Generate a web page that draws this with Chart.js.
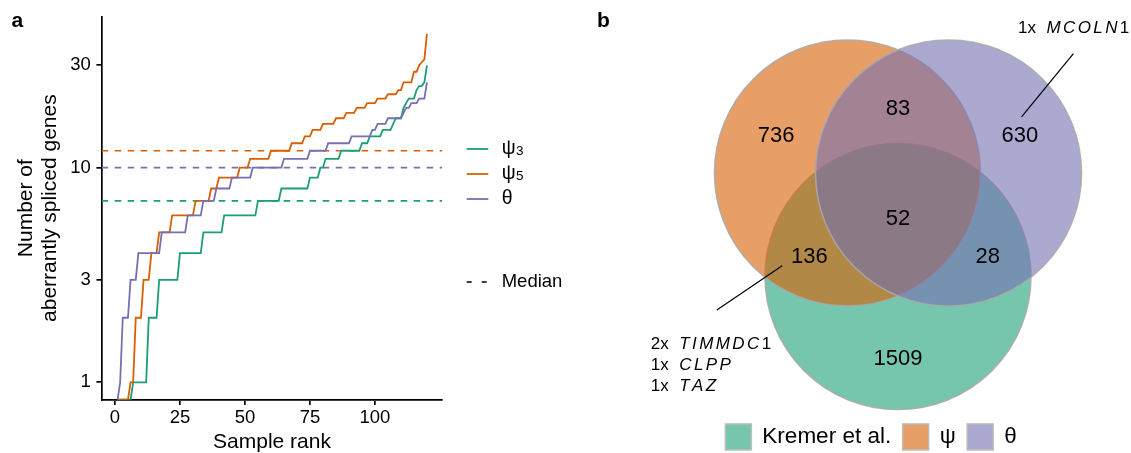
<!DOCTYPE html>
<html>
<head>
<meta charset="utf-8">
<script src="https://cdn.jsdelivr.net/npm/chart.js@4.4.1/dist/chart.umd.min.js"></script>
<style>
    html, body { margin: 0; padding: 0; background: #fff; }
    #wrap { position: relative; width: 1131px; height: 453px; overflow: hidden; }
    #rankChart { position: absolute; left: 0; top: 0; }
    #vennChart { position: absolute; left: 580px; top: 0; }
</style>
</head>
<body>
<div id="wrap">
    <canvas id="rankChart" width="580" height="453"></canvas>
    <canvas id="vennChart" width="551" height="453"></canvas>
</div>
<script>
// ===============================
// DATA  (panel a: genes per sample, sorted by rank 1..120)
// ===============================
const SERIES_SYMBOLS = ["ψ", "ψ", "θ"];
const SERIES_SUBSCRIPTS = ["3", "5", ""];

const PSI3 = [
    0, 0, 0, 0, 0, 0, 1, 1, 1, 1, 1, 1, 2, 2, 2, 2, 3, 3, 3, 3, 3, 3, 3, 3,
    4, 4, 4, 4, 4, 4, 4, 4, 4, 5, 5, 5, 5, 5, 5, 5, 5,
    6, 6, 6, 6, 6, 6, 6, 6, 6, 6, 6, 6, 6, 7, 7, 7, 7, 7, 7, 7, 7, 7,
    8, 8, 8, 8, 8, 8, 8, 8, 8, 8, 8, 9, 9, 9, 9, 10, 10, 11, 11, 11, 11, 11, 11,
    12, 12, 12, 12, 12, 12, 12, 12, 13, 13, 13, 14, 14, 14, 14, 14, 15, 15, 15, 15,
    16, 17, 17, 17, 19, 20, 21, 21, 21, 23, 24, 24, 25, 30
];
const PSI5 = [
    0, 0, 0, 0, 0, 1, 1, 2, 2, 2, 3, 3, 3, 4, 4, 4, 5, 5, 5, 5, 5,
    6, 6, 6, 6, 6, 6, 6, 6, 6, 7, 7, 7, 7, 7, 7, 8, 8, 8,
    9, 9, 9, 9, 9, 9, 9, 9, 10, 10, 10, 10, 11, 11, 11, 11, 11, 11, 11, 11,
    12, 12, 12, 12, 12, 12, 12, 12, 13, 13, 13, 13, 13, 14, 14, 14, 15, 15, 15, 15,
    16, 16, 16, 16, 16, 17, 17, 17, 17, 18, 18, 18, 18, 19, 19, 19, 19,
    20, 20, 20, 20, 21, 21, 21, 21, 22, 22, 22, 22, 23, 23, 25, 25, 25, 25,
    28, 28, 30, 31, 32, 42
];
const THETA = [
    0, 1, 2, 2, 2, 3, 3, 3, 4, 4, 4, 4, 4, 4, 4, 4, 4,
    5, 5, 5, 5, 5, 5, 5, 5, 5, 5, 6, 6, 6, 6, 6, 6, 7, 7, 7, 7, 7,
    8, 8, 8, 8, 8, 8, 9, 9, 9, 9, 9, 9, 9, 9,
    10, 10, 10, 10, 10, 10, 10, 10, 10, 10, 10, 10, 11, 11, 11, 11, 11, 11, 11, 11, 11, 11,
    12, 12, 12, 12, 12, 12, 12, 13, 13, 13, 13, 13, 13, 13, 13, 13,
    14, 14, 14, 14, 14, 14, 14, 14, 15, 15, 16, 16, 16, 16, 17, 17, 17, 17, 17, 17,
    18, 19, 19, 20, 20, 20, 21, 21, 21, 25
];
const MEDIANS = [7, 12, 10];
const X_TICKS = [0, 25, 50, 75, 100];
const Y_TICKS = [1, 3, 10, 30];

// panel b: Venn of aberrantly spliced genes
const SET_NAMES = ["Kremer et al.", "ψ", "θ"];
const REGION_NAMES = ["ψ only", "ψ & θ", "θ only", "ψ & Kremer", "all three", "θ & Kremer", "Kremer only"];
const REGION_COUNTS = [736, 83, 630, 136, 52, 28, 1509];
const NOTES_136_COUNT = [2, 1, 1];
const NOTES_136_GENE = ["TIMMDC1", "CLPP", "TAZ"];
const NOTES_630_COUNT = [1];
const NOTES_630_GENE = ["MCOLN1"];


// ===============================
// STYLE
// ===============================
const FONT = "'Liberation Sans', Arial, Helvetica, sans-serif";
const LINE_COLORS = ["#1b9e77", "#d95f02", "#7570b3"];
const SET_FILLS = ["rgba(27,158,119,0.6)", "rgba(217,95,2,0.6)", "rgba(117,112,179,0.6)"];
const X_MIN = -5.1, X_MAX = 125.9;
const Y_MIN = 0.83, Y_MAX = 50.6;

Chart.defaults.font.family = FONT;
Chart.defaults.color = "#000";


// ===============================
// PANEL A - LEGEND + LETTER
// ===============================
const rankLegend = {
    id: "rankLegend",
    afterDraw(chart) {
        const ctx = chart.ctx;
        const lx = chart.chartArea.right + 24.4;
        const tx = lx + 35;
        const rows = [149, 174, 199];

        ctx.save();
        ctx.font = "bold 21px " + FONT;
        ctx.fillStyle = "#000";
        ctx.textBaseline = "alphabetic";
        ctx.fillText("a", 11.5, 27);

        rows.forEach((y, i) => {
            ctx.strokeStyle = LINE_COLORS[i];
            ctx.lineWidth = 1.8;
            ctx.beginPath();
            ctx.moveTo(lx, y);
            ctx.lineTo(lx + 21.6, y);
            ctx.stroke();

            ctx.fillStyle = "#000";
            ctx.font = "19.5px " + FONT;
            ctx.textBaseline = "middle";
            ctx.fillText(SERIES_SYMBOLS[i], tx, y);
            const w = ctx.measureText(SERIES_SYMBOLS[i]).width;
            if (SERIES_SUBSCRIPTS[i]) {
                ctx.font = "13.5px " + FONT;
                ctx.textBaseline = "alphabetic";
                ctx.fillText(SERIES_SUBSCRIPTS[i], tx + w + 0.5, y + 5.5);
            }
        });

        // median key
        const my = 282;
        ctx.strokeStyle = "#000";
        ctx.lineWidth = 1.6;
        ctx.setLineDash([5, 10]);
        ctx.beginPath();
        ctx.moveTo(lx, my);
        ctx.lineTo(lx + 21.6, my);
        ctx.stroke();
        ctx.setLineDash([]);
        ctx.font = "18.5px " + FONT;
        ctx.textBaseline = "middle";
        ctx.fillText("Median", tx, my);
        ctx.restore();
    }
};


// ===============================
// PANEL A - STEP LINES
// ===============================
const seriesValues = [PSI3, PSI5, THETA];

const lineSets = seriesValues.map((vals, i) => ({
    label: SERIES_SYMBOLS[i] + SERIES_SUBSCRIPTS[i],
    // zero genes = log(0): drawn on the panel edge, as ggplot does
    data: vals.map((v, k) => ({ x: k + 1, y: v > 0 ? v : Y_MIN })),
    borderColor: LINE_COLORS[i],
    borderWidth: 1.8,
    pointRadius: 0,
    tension: 0,
    order: 3 - i
}));

const medianSets = MEDIANS.map((m, i) => ({
    label: "median " + i,
    data: [{ x: X_MIN, y: m }, { x: X_MAX, y: m }],
    borderColor: LINE_COLORS[i],
    borderWidth: 1.7,
    borderDash: [6.5, 6.5],
    pointRadius: 0,
    order: 10
}));

new Chart(document.getElementById("rankChart"), {
    type: "line",
    data: { datasets: lineSets.concat(medianSets) },
    options: {
        responsive: false,
        animation: false,
        events: [],
        layout: { padding: { top: 13.3, right: 137.7, left: 0, bottom: 0 } },
        plugins: { legend: { display: false }, tooltip: { enabled: false } },
        scales: {
            x: {
                type: "linear",
                min: X_MIN,
                max: X_MAX,
                afterBuildTicks: s => { s.ticks = X_TICKS.map(v => ({ value: v })); },
                afterFit: s => { s.height = 53.3; },
                border: { display: true, color: "#000", width: 1.7 },
                grid: { display: true, drawOnChartArea: false, drawTicks: true, tickLength: 5.3, color: "#000", lineWidth: 1.7 },
                ticks: { color: "#000", font: { size: 18.5 }, padding: 2, maxRotation: 0, autoSkip: false, callback: v => String(v) },
                title: { display: true, text: "Sample rank", color: "#000", font: { size: 21, lineHeight: 1.0 }, padding: 0 }
            },
            y: {
                type: "logarithmic",
                min: Y_MIN,
                max: Y_MAX,
                afterBuildTicks: s => { s.ticks = Y_TICKS.map(v => ({ value: v })); },
                afterFit: s => { s.width = 101.7; },
                border: { display: true, color: "#000", width: 1.7 },
                grid: { display: true, drawOnChartArea: false, drawTicks: true, tickLength: 5.3, color: "#000", lineWidth: 1.7 },
                ticks: { color: "#000", font: { size: 18.5 }, padding: 5.5, autoSkip: false, callback: v => String(v) },
                title: {
                    display: true,
                    text: ["Number of", "aberrantly spliced genes"],
                    color: "#000",
                    font: { size: 21, lineHeight: 1.15 },
                    padding: { top: 13.7, bottom: 0 }
                }
            }
        }
    },
    plugins: [rankLegend]
});


// ===============================
// PANEL B - VENN LAYOUT (venn units, circle radius = 1)
// ===============================
const VENN = {
    view: { xMin: -2.391, xMax: 1.752, yMin: -1.8496, yMax: 1.5564 },
    radius: 1,
    centers: [[0, -0.523], [-0.38, 0.256], [0.38, 0.256]],   // Kremer, ψ, θ
    regionAt: [[-0.916, 0.538], [0, 0.741], [0.917, 0.538], [-0.667, -0.379],
               [0, -0.086], [0.674, -0.379], [0, -1.143]],
    note630: { text: [0.902, 1.346], line: [[1.319, 1.154], [0.929, 0.678]] },
    note136: { text: [-1.859, -1.035], step: 0.158, line: [[-1.362, -0.774], [-0.871, -0.442]] },
    legend: { x: -1.298, y: -1.729 }
};

function drawSpaced(ctx, text, x, y, spacing) {
    for (const ch of text) {
        ctx.font = (/[0-9]/.test(ch) ? "" : "italic ") + "17px " + FONT;
        ctx.fillText(ch, x, y);
        x += ctx.measureText(ch).width + spacing;
    }
}

const vennText = {
    id: "vennText",
    afterDatasetsDraw(chart) {
        const ctx = chart.ctx;
        const xs = chart.scales.x, ys = chart.scales.y;
        const px = u => xs.getPixelForValue(u);
        const py = u => ys.getPixelForValue(u);

        ctx.save();
        ctx.fillStyle = "#000";

        // region counts
        ctx.font = "22px " + FONT;
        ctx.textAlign = "center";
        ctx.textBaseline = "middle";
        REGION_COUNTS.forEach((c, i) => {
            ctx.fillText(String(c), px(VENN.regionAt[i][0]), py(VENN.regionAt[i][1]));
        });

        // leader lines
        ctx.strokeStyle = "#000";
        ctx.lineWidth = 1.2;
        [VENN.note630.line, VENN.note136.line].forEach(l => {
            ctx.beginPath();
            ctx.moveTo(px(l[0][0]), py(l[0][1]));
            ctx.lineTo(px(l[1][0]), py(l[1][1]));
            ctx.stroke();
        });

        // gene notes
        ctx.textAlign = "left";
        const nameOffset = 28.5;
        NOTES_630_GENE.forEach((g, i) => {
            const x = px(VENN.note630.text[0]), y = py(VENN.note630.text[1]);
            ctx.font = "17px " + FONT;
            ctx.fillText(NOTES_630_COUNT[i] + "x", x, y);
            drawSpaced(ctx, g, x + nameOffset, y, 2.4);
        });
        NOTES_136_GENE.forEach((g, i) => {
            const x = px(VENN.note136.text[0]);
            const y = py(VENN.note136.text[1] - i * VENN.note136.step);
            ctx.font = "17px " + FONT;
            ctx.fillText(NOTES_136_COUNT[i] + "x", x, y);
            drawSpaced(ctx, g, x + nameOffset, y, 2.4);
        });

        // legend
        let lx = px(VENN.legend.x);
        const ly = py(VENN.legend.y);
        const box = 26;
        ctx.font = "22.5px " + FONT;
        SET_NAMES.forEach((name, i) => {
            ctx.fillStyle = "#fff";
            ctx.fillRect(lx, ly - box / 2, box, box);
            ctx.fillStyle = SET_FILLS[i];
            ctx.fillRect(lx, ly - box / 2, box, box);
            ctx.strokeStyle = "#bdbdbd";
            ctx.lineWidth = 1.5;
            ctx.strokeRect(lx, ly - box / 2, box, box);
            lx += box + 11;
            ctx.fillStyle = "#000";
            ctx.fillText(name, lx, ly);
            lx += ctx.measureText(name).width + 11.5;
        });

        // panel letter
        ctx.font = "bold 21px " + FONT;
        ctx.textBaseline = "alphabetic";
        ctx.fillText("b", 17, 27);
        ctx.restore();
    }
};

// the chart area fills the whole canvas (no padding, hidden axes),
// so one venn unit is canvas width / x range pixels
const vennCanvas = document.getElementById("vennChart");
const unitPx = vennCanvas.width / (VENN.view.xMax - VENN.view.xMin);

new Chart(vennCanvas, {
    type: "bubble",
    data: {
        datasets: [{
            label: "sets",
            data: VENN.centers.map(c => ({ x: c[0], y: c[1] })),
            backgroundColor: SET_FILLS,
            borderColor: "rgba(170,170,170,0.9)",
            borderWidth: 1.5,
            radius: VENN.radius * unitPx,
            hoverRadius: 0,
            clip: false
        }]
    },
    options: {
        responsive: false,
        animation: false,
        events: [],
        layout: { padding: 0, autoPadding: false },
        plugins: { legend: { display: false }, tooltip: { enabled: false } },
        scales: {
            x: { type: "linear", min: VENN.view.xMin, max: VENN.view.xMax, display: false },
            y: { type: "linear", min: VENN.view.yMin, max: VENN.view.yMax, display: false }
        }
    },
    plugins: [vennText]
});
</script>
</body>
</html>
